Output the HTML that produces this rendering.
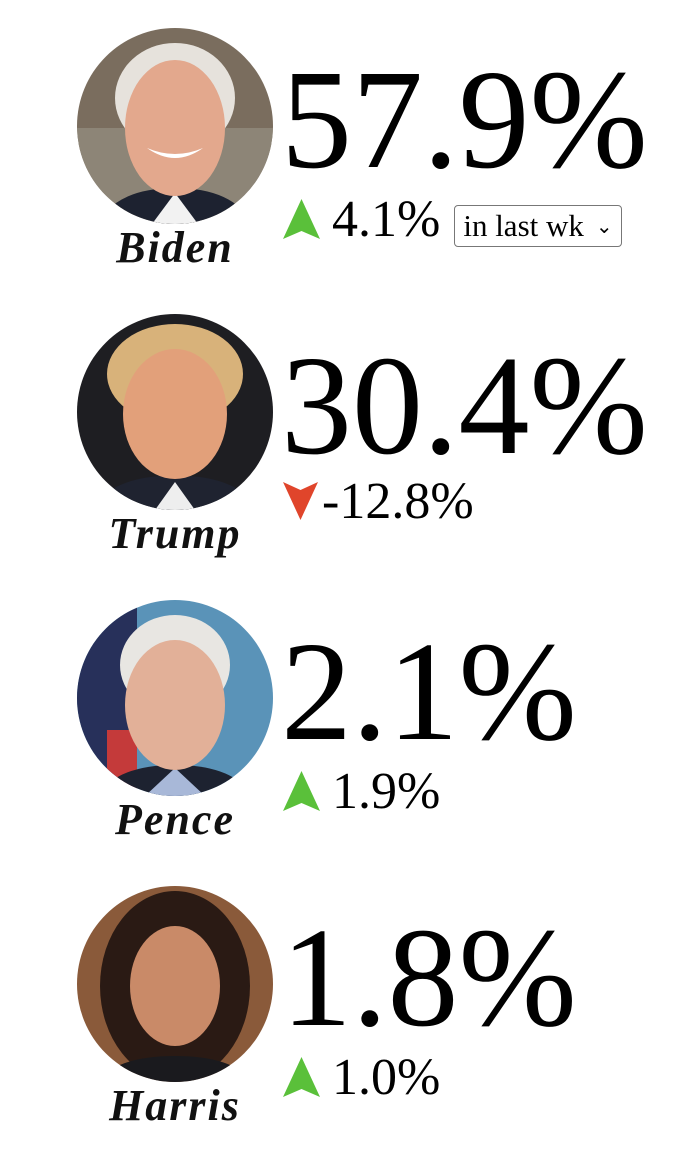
<!DOCTYPE html>
<html><head><meta charset="utf-8"><style>
body{margin:0;width:682px;height:1152px;background:#fff;position:relative;overflow:hidden;font-family:"Liberation Serif",serif}
.row{position:absolute;left:0;width:682px;height:280px}
.pic{position:absolute;left:77px;top:0;width:196px;height:196px}
.name{position:absolute;left:70px;width:210px;text-align:center;top:194px;font:italic bold 44px "Liberation Serif",serif;letter-spacing:2px;color:#111}
.big{position:absolute;left:281px;top:20px;font-size:142px;line-height:1;color:#000}
.chg{position:absolute;left:283px;top:168px;height:46px;display:flex;align-items:center;font-size:52px;color:#000}
.chg svg{margin-right:12px}
.sel{margin-left:14px;margin-top:14px;font:31px "Liberation Serif",serif;border:1.5px solid #777;border-radius:4px;padding:0 8px;height:40px;display:flex;align-items:center;gap:12px}
</style></head><body>
<svg width="0" height="0" style="position:absolute"><defs><clipPath id="c"><circle cx="98" cy="98" r="98"/></clipPath></defs></svg>

<div class="row" style="top:28px">
 <svg class="pic" viewBox="0 0 196 196"><g clip-path="url(#c)">
  <rect width="196" height="196" fill="#7a6d5e"/><rect y="100" width="196" height="96" fill="#8d8577"/>
  <ellipse cx="98" cy="70" rx="60" ry="55" fill="#e6e2dc"/>
  <path d="M20 196 Q40 160 98 160 Q156 160 176 196Z" fill="#1d2230"/>
  <path d="M75 196 L98 165 L121 196Z" fill="#f2f2f2"/>
  <ellipse cx="98" cy="100" rx="50" ry="68" fill="#e3a88d"/>
  <path d="M70 120 Q98 140 126 120 Q98 132 70 120Z" fill="#fff"/>
 </g></svg>
 <div class="name">Biden</div>
 <div class="big">57.9%</div>
 <div class="chg">
  <svg width="37" height="40" viewBox="0 0 37 40"><path d="M18.5 0 L37 40 L18.5 32 L0 40Z" fill="#5ac03a"/></svg>4.1%
  <div class="sel">in last wk <span style="font-size:20px">&#8964;</span></div>
 </div>
</div>

<div class="row" style="top:314px">
 <svg class="pic" viewBox="0 0 196 196"><g clip-path="url(#c)">
  <rect width="196" height="196" fill="#1e1e22"/>
  <ellipse cx="98" cy="60" rx="68" ry="50" fill="#d8b27a"/>
  <path d="M10 196 Q40 160 98 162 Q156 160 186 196Z" fill="#1f2330"/>
  <path d="M78 196 L98 168 L118 196Z" fill="#eee"/>
  <ellipse cx="98" cy="100" rx="52" ry="65" fill="#e2a07a"/>
 </g></svg>
 <div class="name">Trump</div>
 <div class="big">30.4%</div>
 <div class="chg" style="top:164px">
  <svg width="35" height="38" viewBox="0 0 35 38" style="margin-right:4px"><path d="M17.5 38 L35 0 L17.5 8 L0 0Z" fill="#e0452b"/></svg>-12.8%
 </div>
</div>

<div class="row" style="top:600px">
 <svg class="pic" viewBox="0 0 196 196"><g clip-path="url(#c)">
  <rect width="196" height="196" fill="#5a93b8"/><rect width="60" height="196" fill="#27305a"/><rect x="30" y="130" width="30" height="66" fill="#c43a3a"/>
  <ellipse cx="98" cy="65" rx="55" ry="50" fill="#e8e6e2"/>
  <path d="M20 196 Q40 165 98 165 Q156 165 176 196Z" fill="#1d2230"/>
  <path d="M68 196 L98 168 L128 196Z" fill="#a8b8d8"/>
  <ellipse cx="98" cy="105" rx="50" ry="65" fill="#e2b098"/>
 </g></svg>
 <div class="name">Pence</div>
 <div class="big">2.1%</div>
 <div class="chg">
  <svg width="37" height="40" viewBox="0 0 37 40"><path d="M18.5 0 L37 40 L18.5 32 L0 40Z" fill="#5ac03a"/></svg>1.9%
 </div>
</div>

<div class="row" style="top:886px">
 <svg class="pic" viewBox="0 0 196 196"><g clip-path="url(#c)">
  <rect width="196" height="196" fill="#8a5a3a"/>
  <ellipse cx="98" cy="100" rx="75" ry="95" fill="#2a1a14"/>
  <path d="M20 196 Q40 170 98 170 Q156 170 176 196Z" fill="#1a1a1e"/>
  <ellipse cx="98" cy="100" rx="45" ry="60" fill="#c98a68"/>
 </g></svg>
 <div class="name">Harris</div>
 <div class="big">1.8%</div>
 <div class="chg">
  <svg width="37" height="40" viewBox="0 0 37 40"><path d="M18.5 0 L37 40 L18.5 32 L0 40Z" fill="#5ac03a"/></svg>1.0%
 </div>
</div>
</body></html>
